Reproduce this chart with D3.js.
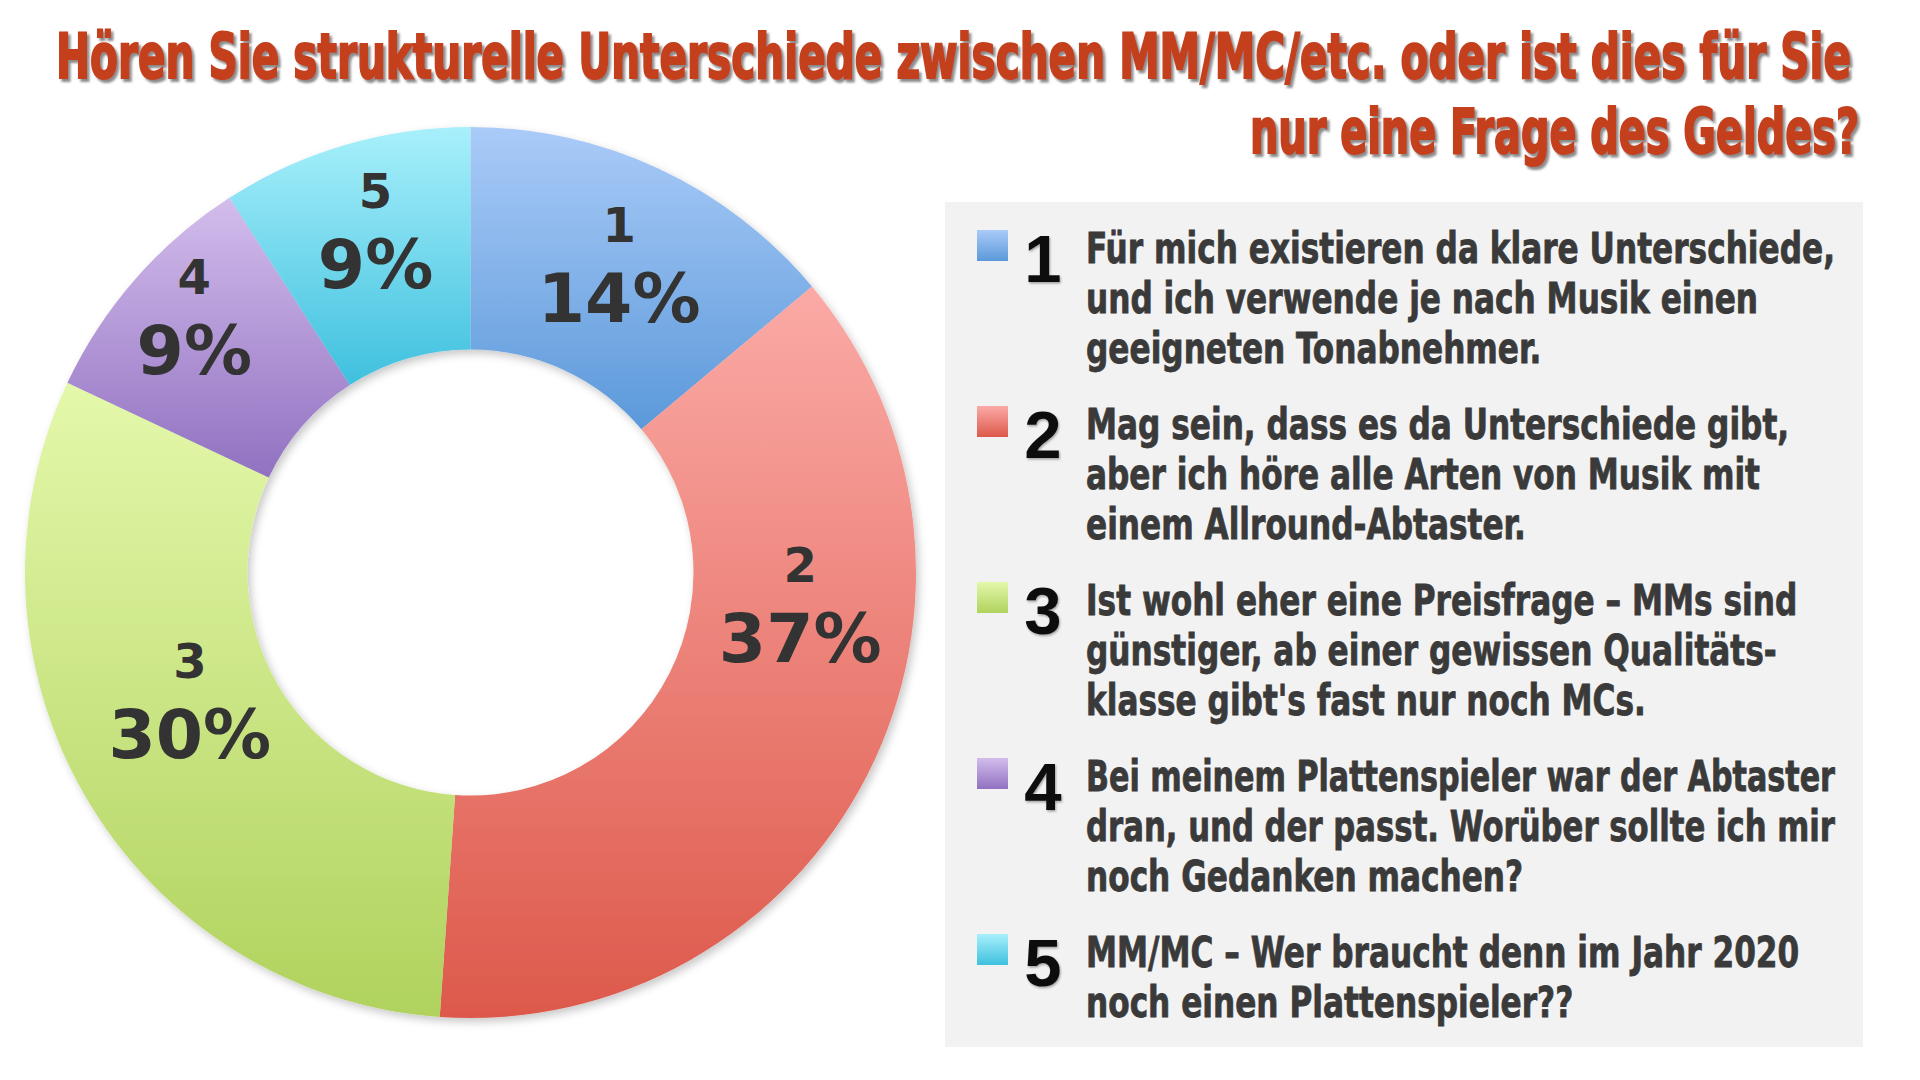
<!DOCTYPE html>
<html>
<head>
<meta charset="utf-8">
<script src="https://cdn.jsdelivr.net/npm/d3@7"></script>
<style>
body { margin: 0; background: #ffffff; }
</style>
</head>
<body>
<svg id="mysvg" width="1920" height="1080"></svg>
<script>
// data
var categories = ["1", "2", "3", "4", "5"];
var percents = [14, 37, 30, 9, 9];
// slice sizes as drawn in the ring
var shares = [13.9, 37.2, 30.9, 8.9, 9.1];
var titleLines = [
	"Hören Sie strukturelle Unterschiede zwischen MM/MC/etc. oder ist dies für Sie",
	"nur eine Frage des Geldes?"
];
var answerLines = [
	["Für mich existieren da klare Unterschiede,", "und ich verwende je nach Musik einen", "geeigneten Tonabnehmer."],
	["Mag sein, dass es da Unterschiede gibt,", "aber ich höre alle Arten von Musik mit", "einem Allround-Abtaster."],
	["Ist wohl eher eine Preisfrage – MMs sind", "günstiger, ab einer gewissen Qualitäts-", "klasse gibt's fast nur noch MCs."],
	["Bei meinem Plattenspieler war der Abtaster", "dran, und der passt. Worüber sollte ich mir", "noch Gedanken machen?"],
	["MM/MC – Wer braucht denn im Jahr 2020", "noch einen Plattenspieler??"]
];

// styles
var colorTop = ["#aacbf8", "#fbaaa6", "#e4f8ab", "#d3bdec", "#a8f0fb"];
var colorBottom = ["#5b99da", "#dd594b", "#b0d25d", "#9171c1", "#3fc0de"];

// layout
var cx = 470.5, cy = 572.5, rOuter = 445.5, rInner = 223;
var labelSpots = [
	{da : 0.5, r : 345},
	{da : -22, r : 331},
	{da : 6.5, r : 307},
	{da : 2, r : 379},
	{da : 1, r : 358}
];

var svg = d3.select("#mysvg");
var defs = svg.append("defs");

for (var i = 0 ; i < categories.length ; ++i) {
	var grad = defs.append("linearGradient")
		.attr("id" , "grad" + i)
		.attr("x1" , 0).attr("y1" , 0)
		.attr("x2" , 0).attr("y2" , 1);
	grad.append("stop").attr("offset" , "0%").attr("stop-color" , colorTop[i]);
	grad.append("stop").attr("offset" , "100%").attr("stop-color" , colorBottom[i]);
}

var titleShadow = defs.append("filter").attr("id" , "titleshadow")
	.attr("x" , "-5%").attr("y" , "-20%").attr("width" , "110%").attr("height" , "150%");
titleShadow.append("feDropShadow")
	.attr("dx" , 2.5).attr("dy" , 3).attr("stdDeviation" , 1.3)
	.attr("flood-color" , "#6e6e6e").attr("flood-opacity" , 0.8);

var ringShadow = defs.append("filter").attr("id" , "ringshadow")
	.attr("x" , "-10%").attr("y" , "-10%").attr("width" , "120%").attr("height" , "120%");
ringShadow.append("feDropShadow")
	.attr("dx" , 3).attr("dy" , 4).attr("stdDeviation" , 4)
	.attr("flood-color" , "#000").attr("flood-opacity" , 0.22);

var smallShadow = defs.append("filter").attr("id" , "smallshadow");
smallShadow.append("feDropShadow")
	.attr("dx" , 1).attr("dy" , 1.5).attr("stdDeviation" , 1)
	.attr("flood-color" , "#000").attr("flood-opacity" , 0.35);

// title
var titleX = [56, 1250];
var titleY = [78, 153];
var titleW = [1795, 609];
svg.append("g").attr("filter" , "url(#titleshadow)")
	.selectAll("text")
	.data(titleLines)
	.enter()
	.append("text")
	.attr("x" , function (d, i) { return titleX[i]; })
	.attr("y" , function (d, i) { return titleY[i]; })
	.attr("textLength" , function (d, i) { return titleW[i]; })
	.attr("lengthAdjust" , "spacingAndGlyphs")
	.attr("font-family" , "'Liberation Sans Narrow', 'DejaVu Sans Condensed', 'Liberation Sans', sans-serif")
	.attr("font-weight" , "bold")
	.attr("font-size" , 63)
	.attr("fill" , "#c4411d")
	.attr("stroke" , "#c4411d")
	.attr("stroke-width" , 2)
	.text(function (d) { return d; });

// donut
var pie = d3.pie().sort(null).value(function (d) { return d; });
var arcs = pie(shares);
var arc = d3.arc().innerRadius(rInner).outerRadius(rOuter);

var donut = svg.append("g").attr("transform" , "translate(" + cx + "," + cy + ")");

donut.append("g").attr("filter" , "url(#ringshadow)")
	.selectAll("path")
	.data(arcs)
	.enter()
	.append("path")
	.attr("d" , arc)
	.attr("fill" , function (d, i) { return "url(#grad" + i + ")"; });

var labels = donut.selectAll("g.lbl")
	.data(arcs)
	.enter()
	.append("g")
	.attr("class" , "lbl")
	.attr("transform" , function (d, i) {
		var a = (d.startAngle + d.endAngle) / 2 + labelSpots[i].da * Math.PI / 180;
		var r = labelSpots[i].r;
		return "translate(" + (r * Math.sin(a)) + "," + (-r * Math.cos(a)) + ")";
	});

labels.append("text")
	.attr("y" , -19)
	.attr("text-anchor" , "middle")
	.attr("font-family" , "'DejaVu Sans', sans-serif")
	.attr("font-weight" , "bold")
	.attr("font-size" , 48)
	.attr("fill" , "#333333")
	.text(function (d, i) { return categories[i]; });

labels.append("text")
	.attr("y" , 61)
	.attr("text-anchor" , "middle")
	.attr("font-family" , "'DejaVu Sans', sans-serif")
	.attr("font-weight" , "bold")
	.attr("font-size" , 68)
	.attr("fill" , "#333333")
	.text(function (d, i) { return percents[i] + "%"; });

// legend
svg.append("rect")
	.attr("x" , 945).attr("y" , 202)
	.attr("width" , 918).attr("height" , 845)
	.attr("fill" , "#f2f2f2");

var lineStep = 50, itemGap = 76, firstBase = 263;
var textX = 1086, firstLineW = 749, maxLineW = 749;
var legend = svg.append("g");
var base = firstBase;
var sx = null;

for (var k = 0 ; k < answerLines.length ; ++k) {
	legend.append("rect")
		.attr("x" , 977).attr("y" , base - 33)
		.attr("width" , 31).attr("height" , 31)
		.attr("fill" , "url(#grad" + k + ")");

	legend.append("text")
		.attr("x" , 1043).attr("y" , base + 19)
		.attr("text-anchor" , "middle")
		.attr("font-family" , "'Liberation Sans', Arial, sans-serif")
		.attr("font-weight" , "bold")
		.attr("font-size" , 67)
		.attr("fill" , "#111111")
		.attr("filter" , "url(#smallshadow)")
		.text(categories[k]);

	for (var j = 0 ; j < answerLines[k].length ; ++j) {
		var t = legend.append("text")
			.attr("x" , textX).attr("y" , base + j * lineStep)
			.attr("font-family" , "'Liberation Sans Narrow', 'DejaVu Sans Condensed', 'Liberation Sans', sans-serif")
			.attr("font-weight" , "bold")
			.attr("font-size" , 43)
			.attr("fill" , "#3a3a3a")
			.attr("stroke" , "#3a3a3a")
			.attr("stroke-width" , 0.8)
			.text(answerLines[k][j]);
		var len = t.node().getComputedTextLength();
		if (sx === null) sx = firstLineW / len;
		t.attr("textLength" , Math.min(len * sx, maxLineW)).attr("lengthAdjust" , "spacingAndGlyphs");
	}
	base += (answerLines[k].length - 1) * lineStep + itemGap;
}
</script>
</body>
</html>
